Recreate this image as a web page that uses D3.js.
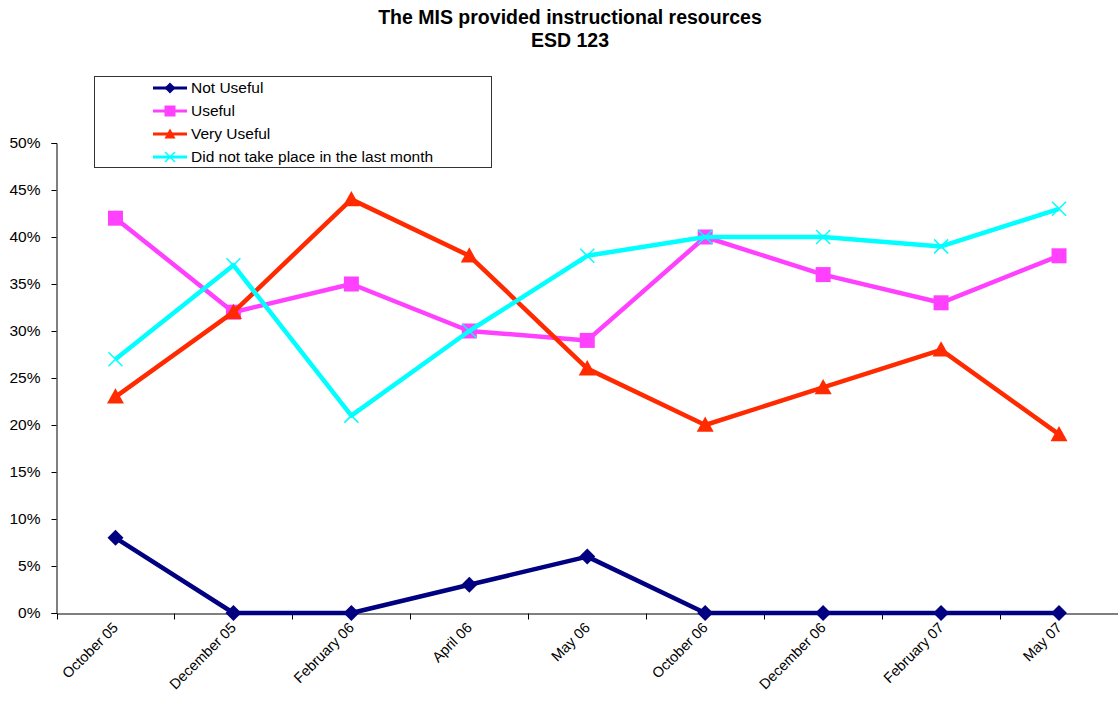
<!DOCTYPE html>
<html><head><meta charset="utf-8">
<script src="https://cdn.jsdelivr.net/npm/d3@7"></script>
<style>body{margin:0;background:#fff;} text{font-family:"Liberation Sans",Arial,sans-serif;}</style>
</head><body><svg id="c" width="1118" height="715"></svg>
<script>
const categories = ["October 05","December 05","February 06","April 06","May 06","October 06","December 06","February 07","May 07"];
const notUseful = [8,0,0,3,6,0,0,0,0];
const useful = [42,32,35,30,29,40,36,33,38];
const veryUseful = [23,32,44,38,26,20,24,28,19];
const didNotTakePlace = [27,37,21,30,38,40,40,39,43];
const seriesNames = ["Not Useful","Useful","Very Useful","Did not take place in the last month"];
const yTicks = [0,5,10,15,20,25,30,35,40,45,50];

(function(){
const series = [
  {name:seriesNames[0], values:notUseful, color:"#000080", marker:"diamond"},
  {name:seriesNames[1], values:useful, color:"#FF40FF", marker:"square"},
  {name:seriesNames[2], values:veryUseful, color:"#FF2A00", marker:"triangle"},
  {name:seriesNames[3], values:didNotTakePlace, color:"#00FFFF", marker:"x"}
];

const svg = d3.select("#c");
const pLeft = 56.5, pRight = 1118, pTop = 143, pBottom = 613;
const x = d3.scaleBand().domain(categories).range([pLeft, pRight]);
const y = d3.scaleLinear().domain([0,50]).range([pBottom, pTop]);

svg.append("text").attr("x",570).attr("y",24).attr("text-anchor","middle")
  .style("font-size","19.5px").style("font-weight","bold").text("The MIS provided instructional resources");
svg.append("text").attr("x",570).attr("y",47).attr("text-anchor","middle")
  .style("font-size","19.5px").style("font-weight","bold").text("ESD 123");

const yAxis = d3.axisLeft(y).tickValues(yTicks).tickFormat(d=>d+"%").tickSize(5).tickPadding(11);
const gy = svg.append("g").attr("transform",`translate(${pLeft},0)`).call(yAxis);
gy.select(".domain").attr("stroke","#000");
gy.selectAll(".tick line").attr("stroke","#000");
gy.selectAll("text").style("font-size","15.5px").attr("fill","#000").style("font-family","'Liberation Sans',Arial,sans-serif");

const xAxis = d3.axisBottom(x).tickSize(0).tickFormat("");
const gx = svg.append("g").attr("transform",`translate(0,${pBottom+0.5})`).call(xAxis);
gx.select(".domain").attr("stroke","#000");
const bounds = categories.map(c=>x(c)).concat([x(categories[categories.length-1])+x.bandwidth()]);
gx.selectAll(".bt").data(bounds).enter().append("line")
  .attr("x1",d=>Math.round(d)+0.5).attr("x2",d=>Math.round(d)+0.5).attr("y1",0).attr("y2",6).attr("stroke","#000");
const cx = c => x(c) + x.bandwidth()/2;
svg.append("g").selectAll("text").data(categories).enter().append("text")
  .attr("transform",c=>`translate(${cx(c)},${pBottom+12}) rotate(-45)`)
  .attr("text-anchor","end").attr("dy","0.35em").style("font-size","14.5px").attr("fill","#000")
  .text(c=>c);

function drawMarker(g, type, color, px, py, s){
  if(type==="diamond"){
    g.append("path").attr("d",`M${px},${py-s}L${px+s},${py}L${px},${py+s}L${px-s},${py}Z`).attr("fill",color);
  } else if(type==="square"){
    g.append("rect").attr("x",px-s).attr("y",py-s).attr("width",2*s).attr("height",2*s).attr("fill",color);
  } else if(type==="triangle"){
    g.append("path").attr("d",`M${px},${py-s}L${px+s},${py+s*0.8}L${px-s},${py+s*0.8}Z`).attr("fill",color);
  } else {
    g.append("path").attr("d",`M${px-s},${py-s}L${px+s},${py+s}M${px+s},${py-s}L${px-s},${py+s}`).attr("stroke",color).attr("stroke-width",1.5);
  }
}
const sizes = {diamond:8, square:7.5, triangle:8.5, x:7};
const line = d3.line().x((d,i)=>cx(categories[i])).y(d=>y(d));
series.forEach(s=>{
  const g = svg.append("g");
  g.append("path").datum(s.values).attr("d",line).attr("fill","none")
    .attr("stroke",s.color).attr("stroke-width",4.5).attr("stroke-linejoin","round");
  s.values.forEach((v,i)=>drawMarker(g, s.marker, s.color, cx(categories[i]), y(v), sizes[s.marker]));
});

const lg = svg.append("g");
lg.append("rect").attr("x",94.5).attr("y",76.5).attr("width",397).attr("height",91)
  .attr("fill","#fff").attr("stroke","#333").attr("stroke-width",1);
series.forEach((s,i)=>{
  const ly = 88 + i*23;
  lg.append("line").attr("x1",153).attr("x2",187).attr("y1",ly).attr("y2",ly).attr("stroke",s.color).attr("stroke-width",3);
  drawMarker(lg, s.marker, s.color, 170, ly, s.marker==="x"?5:5.5);
  lg.append("text").attr("x",191).attr("y",ly).attr("dy","0.35em").style("font-size","15.5px").attr("fill","#000").text(s.name);
});
})();
</script></body></html>
